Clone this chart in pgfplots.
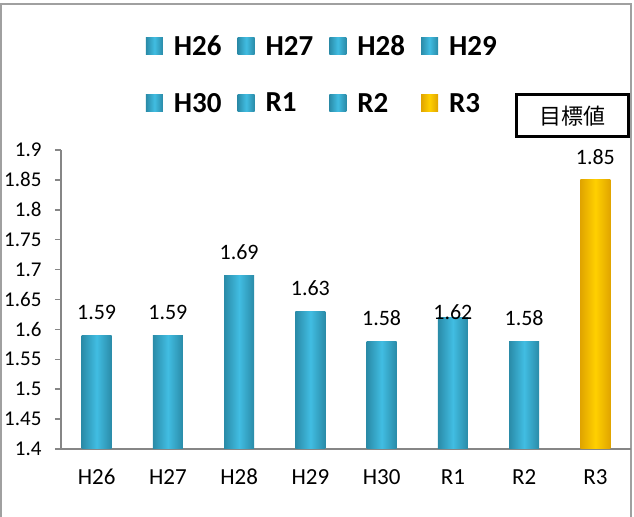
\documentclass[border=0pt]{standalone}
\usepackage{pgfplots}
\pgfplotsset{compat=1.18}
\usepackage{fontspec}
\setmainfont{Carlito}
\newfontfamily\jp{Noto Sans CJK JP}
\definecolor{bluemid}{HTML}{41BDE2}
\definecolor{blueedge}{HTML}{2A8BA8}
\definecolor{yelmid}{HTML}{FFD000}
\definecolor{yeledge}{HTML}{E0A400}
\definecolor{axgray}{HTML}{868686}
\definecolor{bordergray}{HTML}{A0A0A0}
\pgfplotsset{
  bluebar/.style={draw=none, left color=blueedge, right color=blueedge, middle color=bluemid},
  yelbar/.style={draw=none, left color=yeledge, right color=yeledge, middle color=yelmid},
}
\begin{document}
\begin{tikzpicture}
\useasboundingbox (0bp,0bp) rectangle (634bp,517bp);
\draw[bordergray, line width=1.5bp] (1bp,-10bp) rectangle (631bp,513bp);
\begin{axis}[
  at={(61bp,68bp)}, anchor=south west,
  scale only axis, width=570bp, height=299bp,
  xmin=-0.5, xmax=7.5, ymin=1.4, ymax=1.9,
  ytick={1.4,1.45,1.5,1.55,1.6,1.65,1.7,1.75,1.8,1.85,1.9},
  xtick={0,1,2,3,4,5,6,7},
  xticklabels={H26,H27,H28,H29,H30,R1,R2,R3},
  axis x line*=bottom, axis y line*=left,
  axis line style={-, axgray, line width=1.5bp},
  tick align=outside, major tick length=6bp,
  ytick style={axgray, line width=1.5bp},
  xtick style={draw=none},
  yticklabel style={font=\fontsize{21bp}{25bp}\selectfont, text=black, anchor=east, xshift=-10bp},
  xticklabel style={font=\fontsize{23bp}{27bp}\selectfont, text=black, anchor=center, yshift=-22bp},
  /pgf/number format/.cd, fixed, precision=2, assume math mode=true, /pgfplots/.cd,
  ybar, bar width=30bp, bar shift=0pt,
  nodes near coords,
  nodes near coords style={font=\fontsize{22bp}{26bp}\selectfont, text=black, anchor=center, yshift=23bp},
  legend image code/.code={\path[#1] (0bp,-8.5bp) rectangle (17bp,8.5bp);},
  legend columns=4,
  legend cell align=left,
  legend style={at={(rel axis cs:0.149,1.2525)}, anchor=west, draw=none, fill=none,
    inner sep=0pt, outer sep=0pt, row sep=36bp,
    font=\fontsize{29bp}{34bp}\selectfont\bfseries,
    nodes={inner sep=0pt},
    /tikz/every odd column/.append style={column sep=11bp},
    /tikz/every even column/.append style={column sep=16bp}},
]
\addplot[bluebar] coordinates {(0,1.59)};
\addlegendentry{H26}
\addplot[bluebar] coordinates {(1,1.59)};
\addlegendentry{H27}
\addplot[bluebar] coordinates {(2,1.69)};
\addlegendentry{H28}
\addplot[bluebar] coordinates {(3,1.63)};
\addlegendentry{H29}
\addplot[bluebar] coordinates {(4,1.58)};
\addlegendentry{H30}
\addplot[bluebar, nodes near coords style={yshift=-17.5bp}] coordinates {(5,1.62)};
\addlegendentry{R1}
\addplot[bluebar] coordinates {(6,1.58)};
\addlegendentry{R2}
\addplot[yelbar] coordinates {(7,1.85)};
\addlegendentry{R3}
\end{axis}
\draw[black, line width=3bp] (516bp,380bp) rectangle (628bp,422bp);
\node[font=\jp\fontsize{22bp}{26bp}\selectfont] at (572bp,401bp) {目標値};
\end{tikzpicture}
\end{document}
